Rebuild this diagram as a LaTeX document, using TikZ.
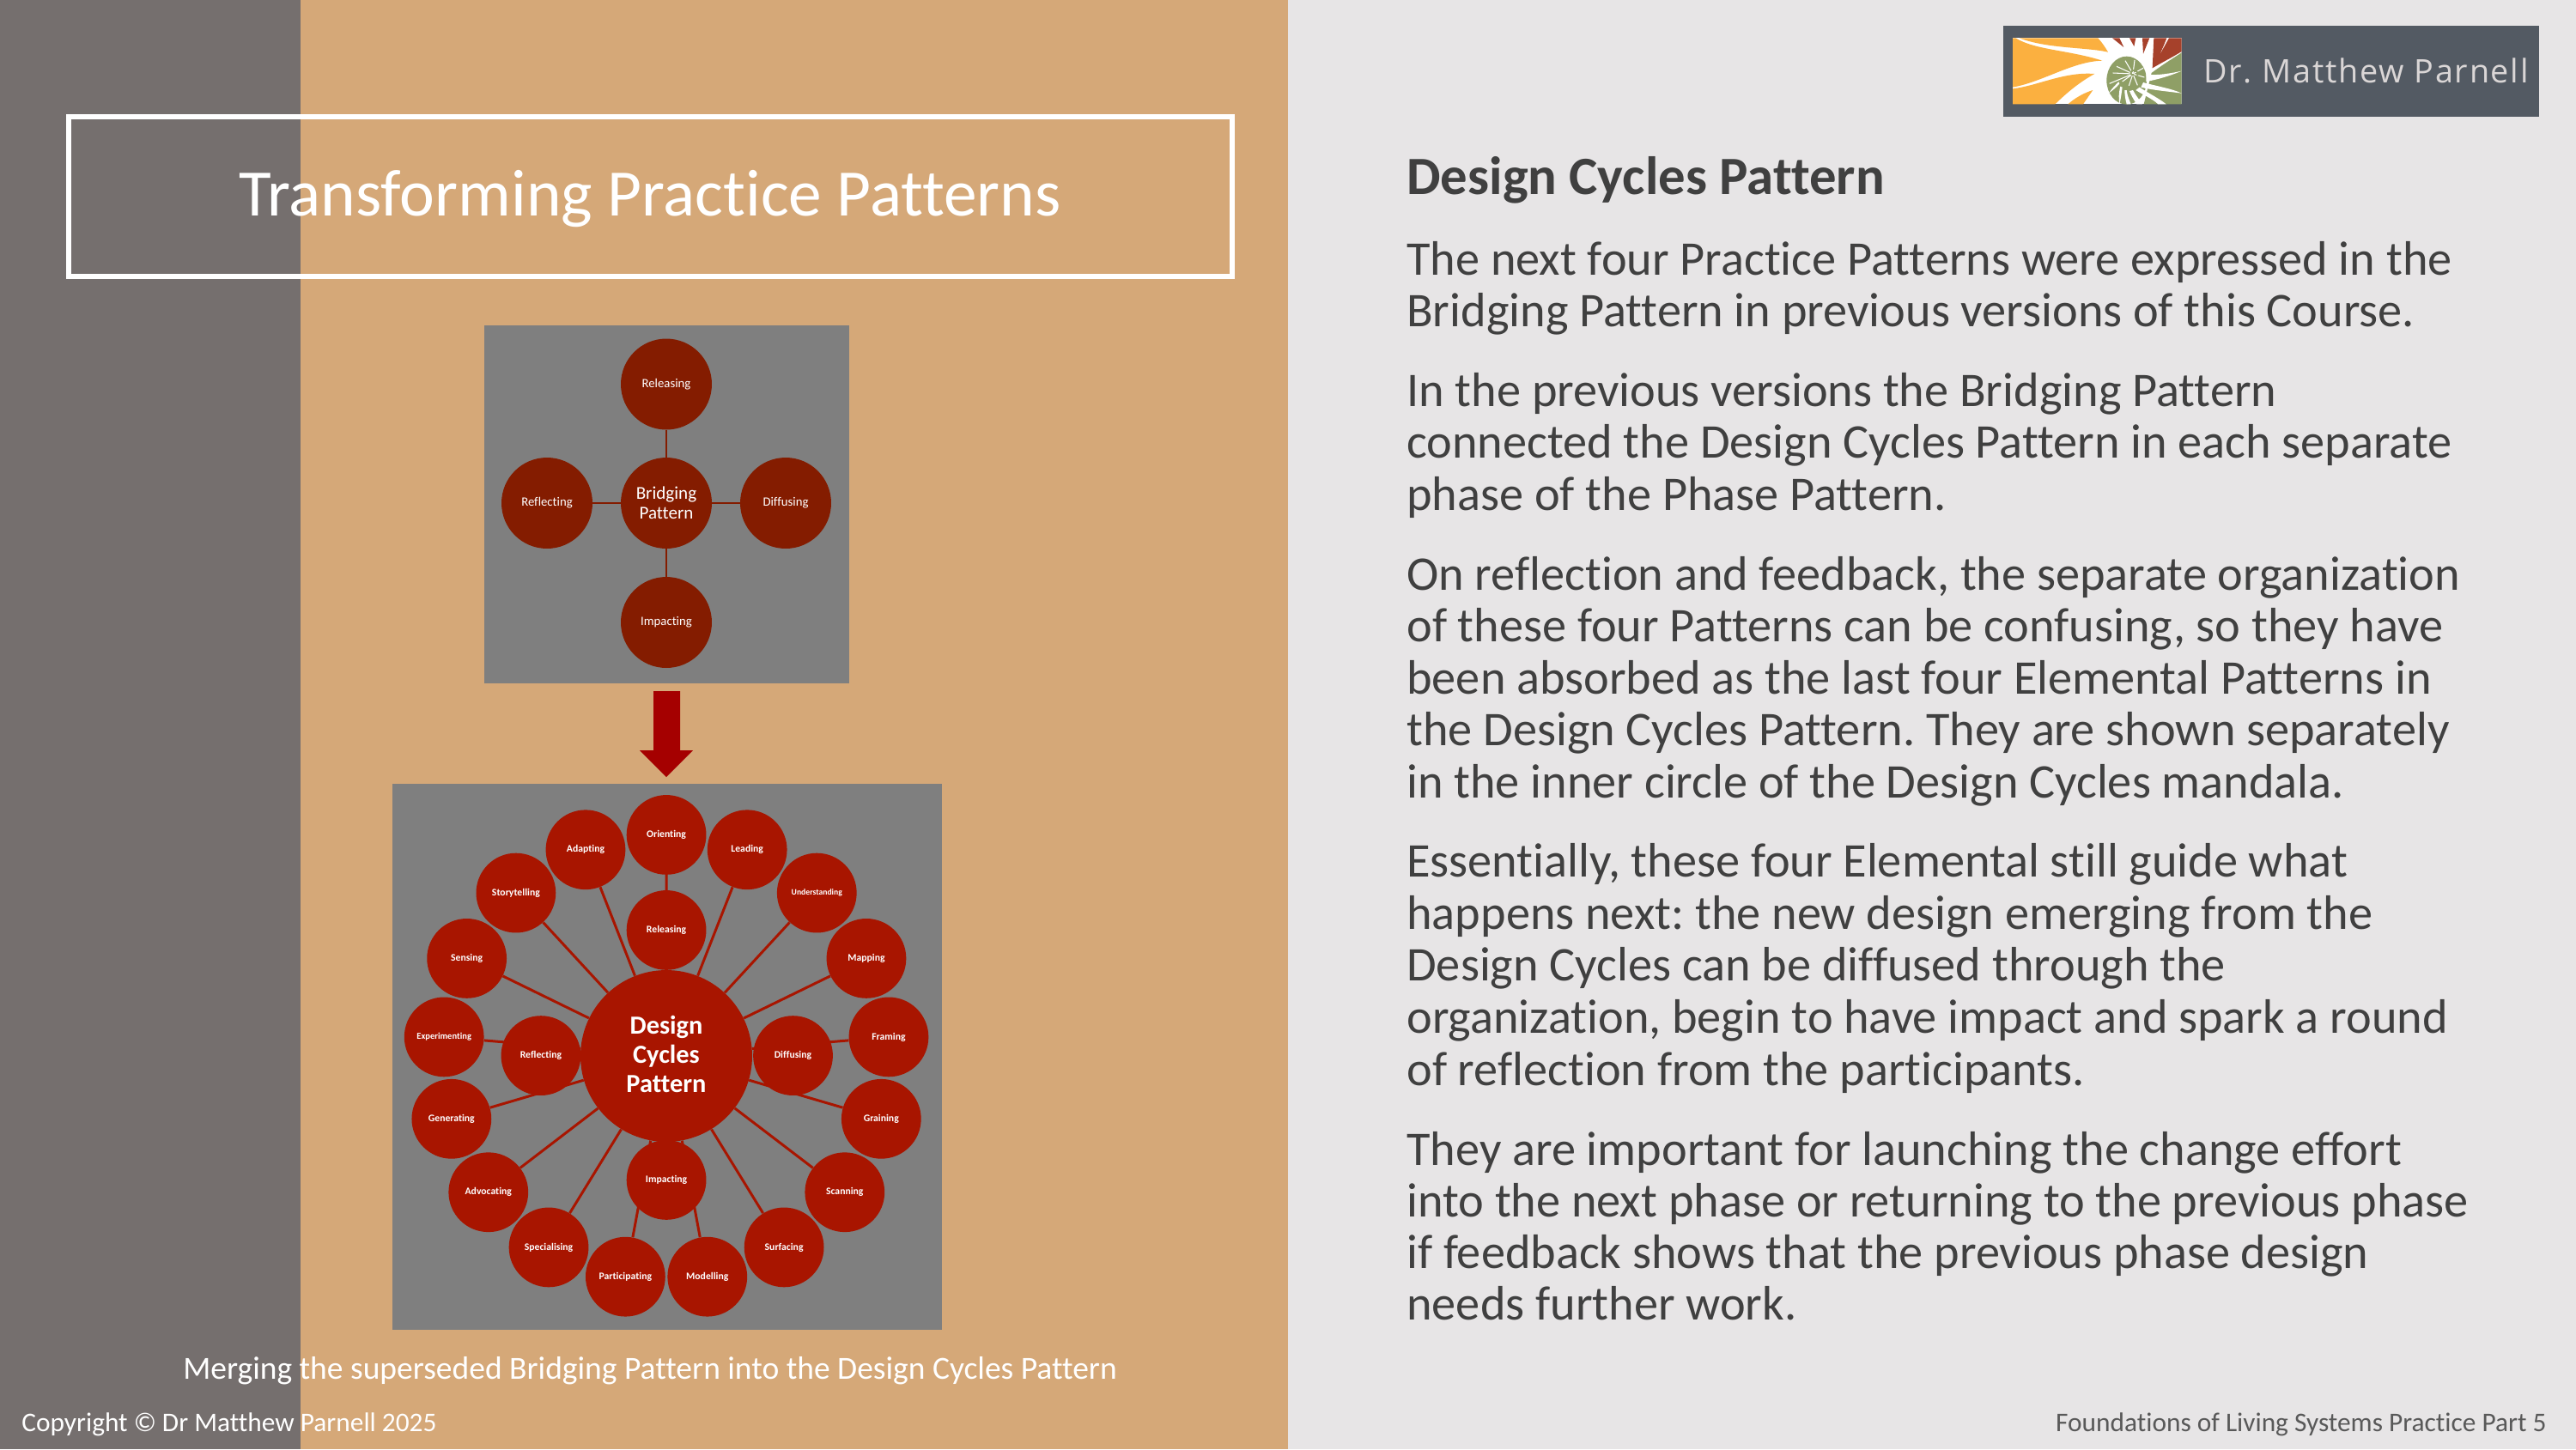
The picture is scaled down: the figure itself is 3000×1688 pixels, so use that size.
\documentclass[tikz,border=0pt]{standalone}
\usepackage{fontspec}
\setmainfont{Carlito}[Ligatures=NoCommon]
\newfontfamily\logofont[LetterSpace=4.7]{Open Sans}
\definecolor{bandgray}{HTML}{756F6E}
\definecolor{tan}{HTML}{D5A878}
\definecolor{paper}{HTML}{E7E5E6}
\definecolor{panel}{HTML}{7F7F7F}
\definecolor{darkred}{HTML}{841C00}
\definecolor{brightred}{HTML}{A81500}
\definecolor{arrowred}{HTML}{A50000}
\definecolor{logobg}{HTML}{535A63}
\definecolor{logotext}{HTML}{DAD6D6}
\definecolor{bodytext}{HTML}{404040}
\definecolor{foot}{HTML}{595959}
\definecolor{lorange}{HTML}{FBB040}
\definecolor{lred}{HTML}{A6412B}
\definecolor{lgreen}{HTML}{8F9F66}
\pgfdeclarelayer{back}
\pgfdeclarelayer{edges}
\pgfsetlayers{back,edges,main}
\newcommand{\bodyline}[3]{\node[bodystyle] (#1) at (1638,#2) {#3};}
\tikzset{
  bodystyle/.style={anchor=base west,inner sep=0,text=bodytext,font=\fontsize{32.05}{38}\selectfont},
  smallc/.style={circle,fill=darkred,inner sep=0,minimum size=2.12cm,text=white,align=center,font=\fontsize{8.4}{10}\selectfont},
  bigc/.style={circle,fill=brightred,inner sep=0,minimum size=1.856cm,text=white,align=center,font=\fontsize{6.66}{8}\selectfont\bfseries},
  link/.style={draw=darkred,line width=2pt*0.569},
  spoke/.style={draw=brightred,line width=3pt*0.569},
  capt/.style={inner sep=0,text=white,anchor=base}
}
\begin{document}
\frenchspacing
\begin{tikzpicture}[x=0.02cm,y=-0.02cm]
\useasboundingbox (0,0) rectangle (3000,1688);
\begin{pgfonlayer}{back}
\fill[paper] (0,0) rectangle (3000,1688);
\fill[tan] (350,0) rectangle (1500,1688);
\fill[bandgray] (0,0) rectangle (350,1688);
\fill[panel] (564,379) rectangle (989,796);
\fill[panel] (457,913) rectangle (1097,1549);
\end{pgfonlayer}
% title
\node[draw=white,line width=6pt*0.569,minimum width=2.71*10cm,minimum height=3.72cm,inner sep=0] (titlebox) at (757.5,229) {};
\node[inner sep=0,text=white,font=\fontsize{44}{50}\selectfont,anchor=base] (title) at (757,251) {Transforming Practice Patterns};
% bridging mandala
\node[smallc,font=\fontsize{12}{13.1}\selectfont] (bp) at (776,586) {Bridging\\Pattern};
\node[smallc] (brel) at (776,447.5) {Releasing};
\node[smallc] (bimp) at (776,725) {Impacting};
\node[smallc] (bref) at (637,586) {Reflecting};
\node[smallc] (bdif) at (915,586) {Diffusing};
\begin{pgfonlayer}{edges}
\foreach \n in {brel,bimp,bref,bdif}{\draw[link] (bp) -- (\n);}
\end{pgfonlayer}
% arrow
\fill[arrowred] (761,805) -- (792,805) -- (792,874) -- (807,874) -- (776,905) -- (745,874) -- (761,874) -- cycle;
% design cycles mandala
\node[circle,fill=brightred,inner sep=0,minimum size=4cm] (dc) at (776,1230) {};
\node[inner sep=0,text=white,align=center,font=\fontsize{17.3}{19.2}\selectfont\bfseries] (dctext) at (776,1228) {Design\\Cycles\\Pattern};
\foreach \nm/\zx/\zy/\txt in {
 orient/775/167/Orienting, lead/992/207/Leading, map/1312/499/Mapping, fram/1372/710/Framing,
 grain/1352/930/Graining, scan/1254/1127/Scanning, surf/1091/1275/Surfacing, model/885/1354/Modelling,
 partic/665/1354/Participating, spec/459/1275/Specialising, advoc/297/1127/Advocating, gener/198/930/Generating,
 sens/239/499/Sensing, story/371/323/Storytelling, adapt/558/207/Adapting}
 {\node[bigc] (\nm) at ({440+\zx/2.306},{900+\zy/2.306}) {\txt};}
\node[bigc,font=\fontsize{5.5}{7}\selectfont\bfseries] (under) at ({440+1179/2.306},{900+323/2.306}) {Understanding};
\node[bigc,font=\fontsize{6}{7}\selectfont\bfseries] (exper) at ({440+178/2.306},{900+710/2.306}) {Experimenting};
\node[bigc] (rel) at ({440+775/2.306},{900+423/2.306}) {Releasing};
\node[bigc] (dif) at ({440+1115/2.306},{900+760/2.306}) {Diffusing};
\node[bigc] (imp) at ({440+775/2.306},{900+1094/2.306}) {Impacting};
\node[bigc] (ref) at ({440+438/2.306},{900+760/2.306}) {Reflecting};
\begin{pgfonlayer}{edges}
\foreach \n in {orient,lead,under,map,fram,grain,scan,surf,model,partic,spec,advoc,gener,exper,sens,story,adapt}{\draw[spoke] (dc) -- (\n);}
\end{pgfonlayer}
% caption, footer
\node[capt,font=\fontsize{21.35}{26}\selectfont] (caption) at (757,1606) {Merging the superseded Bridging Pattern into the Design Cycles Pattern};
\node[inner sep=0,text=white,anchor=base west,font=\fontsize{17.85}{22}\selectfont] (copy) at (25,1667) {Copyright © Dr Matthew Parnell 2025};
\node[inner sep=0,text=foot,anchor=base east,font=\fontsize{17.85}{22}\selectfont] (footr) at (2966,1667) {Foundations of Living Systems Practice Part 5};
% logo
\fill[logobg] (2333,30) rectangle (2957,136);
\begin{scope}[shift={(2340,40)},x=0.02cm/3,y=-0.02cm/3]
\clip (12,13) rectangle (602,244);
\fill[white] (12,13) rectangle (602,244);
\fill[lorange] (35,13) -- (310,13) .. controls (325,30) and (335,45) .. (345,62) .. controls (270,45) and (130,50) .. (35,13) -- cycle;
\fill[lorange] (12,13) -- (22,13) .. controls (90,55) and (210,55) .. (325,92) .. controls (220,95) and (120,165) .. (12,185) -- cycle;
\fill[lorange] (12,190) .. controls (100,180) and (190,130) .. (298,138) .. controls (240,170) and (195,210) .. (160,244) -- (12,244) -- cycle;
\fill[lorange] (205,244) .. controls (230,222) and (260,205) .. (292,195) -- (258,244) -- cycle;
\fill[lred] (360,13) -- (385,13) -- (400,45) -- cycle;
\fill[lred] (420,13) -- (442,13) -- (436,42) -- cycle;
\fill[lred] (465,13) -- (490,13) -- (468,68) -- cycle;
\fill[lred] (505,13) -- (550,13) .. controls (540,40) and (520,85) .. (500,118) .. controls (530,100) and (570,80) .. (602,60) -- (602,13) -- (558,13) -- (500,118) -- cycle;
\fill[lgreen] (602,64) .. controls (570,85) and (530,110) .. (497,135) -- (470,244) -- (602,244) -- cycle;
\fill[lgreen] (410,161) ellipse [x radius=70,y radius=84];
\fill[white] (478,140) .. controls (520,145) and (570,135) .. (602,128) .. controls (570,142) and (520,158) .. (478,165) -- cycle;
\fill[white] (468,168) .. controls (510,180) and (570,190) .. (602,206) .. controls (560,200) and (500,195) .. (460,185) -- cycle;
\fill[white] (455,185) .. controls (485,205) and (525,225) .. (548,244) -- (520,244) .. controls (500,225) and (465,210) .. (442,195) -- cycle;
\fill[white] (432,195) .. controls (440,210) and (455,230) .. (465,244) -- (445,244) .. controls (435,230) and (425,210) .. (420,198) -- cycle;
\fill[white] (410,195) .. controls (412,215) and (420,230) .. (425,244) -- (410,244) .. controls (405,225) and (403,210) .. (403,195) -- cycle;
\fill[white] (395,185) .. controls (392,205) and (390,225) .. (385,244) .. controls (382,225) and (382,205) .. (388,182) -- cycle;
\fill[white] (385,172) .. controls (375,185) and (362,195) .. (348,205) .. controls (358,190) and (370,178) .. (382,166) -- cycle;
\foreach \xa/\ya/\xb/\yb in {432/138/375/112,432/138/362/135,432/138/350/172,432/138/405/92,432/138/438/90,432/138/468/118,432/138/472/150,432/138/448/178,432/138/418/180,432/138/395/165}
 {\draw[white,line width=0.6pt] (\xa,\ya) -- (\xb,\yb);}
\draw[lgreen,line width=1.1pt] (436,140) .. controls (428,146) and (420,136) .. (428,128) .. controls (438,120) and (452,130) .. (448,144);
\end{scope}
\node[inner sep=0,text=logotext,anchor=base west,font=\logofont\fontsize{21.5}{26}\selectfont] (logotxt) at (2566,96) {Dr. Matthew Parnell};
% right column
\node[inner sep=0,anchor=base west,text=bodytext,font=\fontsize{35.75}{42}\selectfont\bfseries] (head) at (1638,226) {Design Cycles Pattern};
\bodyline{l1}{320}{The next four Practice Patterns were expressed in the}
\bodyline{l2}{380.5}{Bridging Pattern in previous versions of this Course.}
\bodyline{l3}{473}{In the previous versions the Bridging Pattern}
\bodyline{l4}{533.5}{connected the Design Cycles Pattern in each separate}
\bodyline{l5}{594.5}{phase of the Phase Pattern.}
\bodyline{l6}{687}{On reflection and feedback, the separate organization}
\bodyline{l7}{747.5}{of these four Patterns can be confusing, so they have}
\bodyline{l8}{808}{been absorbed as the last four Elemental Patterns in}
\bodyline{l9}{868.5}{the Design Cycles Pattern. They are shown separately}
\bodyline{l10}{929}{in the inner circle of the Design Cycles mandala.}
\bodyline{l11}{1021.5}{Essentially, these four Elemental still guide what}
\bodyline{l12}{1082.5}{happens next: the new design emerging from the}
\bodyline{l13}{1142.5}{Design Cycles can be diffused through the}
\bodyline{l14}{1203.5}{organization, begin to have impact and spark a round}
\bodyline{l15}{1264}{of reflection from the participants.}
\bodyline{l16}{1357}{They are important for launching the change effort}
\bodyline{l17}{1417}{into the next phase or returning to the previous phase}
\bodyline{l18}{1477.5}{if feedback shows that the previous phase design}
\bodyline{l19}{1537.5}{needs further work.}
\end{tikzpicture}
\end{document}
